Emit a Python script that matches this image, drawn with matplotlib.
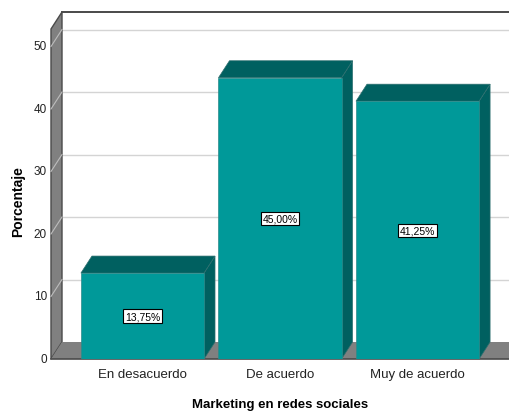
import matplotlib
matplotlib.use("Agg")
import matplotlib.pyplot as plt
from matplotlib.patches import Polygon

categories = ["En desacuerdo", "De acuerdo", "Muy de acuerdo"]
percentages = [13.75, 45.00, 41.25]
value_labels = ["13,75%", "45,00%", "41,25%"]
y_ticks = [0, 10, 20, 30, 40, 50]
x_title = "Marketing en redes sociales"
y_title = "Porcentaje"

W, H, DPI = 509, 414, 100
fig = plt.figure(figsize=(W / DPI, H / DPI), dpi=DPI)

# axes in pixel layout (front plane of the pseudo-3D box)
left_px, right_px, bottom_px, top_px = 51, 509, 360, 30
ax = fig.add_axes([left_px / W, (H - bottom_px) / H,
                   (right_px - left_px) / W, (bottom_px - top_px) / H])

xmin, xmax = -0.665, 2.665
ymin, ymax = 0, 52.8
ax.set_xlim(xmin, xmax)
ax.set_ylim(ymin, ymax)
ax.axis("off")

# depth offset of the 3D effect, in data units
px_per_x = (right_px - left_px) / (xmax - xmin)
px_per_y = (bottom_px - top_px) / (ymax - ymin)
ddx = 11 / px_per_x
ddy = 17 / px_per_y

narrow = ["Liberation Sans Narrow", "Liberation Sans", "DejaVu Sans"]
bold = ["Liberation Sans", "DejaVu Sans"]

wall_gray = "#808080"
edge_dark = "#4a4a4a"
grid_col = "#d4d4d4"
face_col = "#009999"
dark_col = "#006060"


def poly(pts, fc, ec="none", lw=0.8, z=1):
    p = Polygon(pts, closed=True, facecolor=fc, edgecolor=ec, linewidth=lw,
                zorder=z, clip_on=False)
    ax.add_patch(p)


# back wall
poly([(xmin + ddx, ddy), (xmax + ddx, ddy), (xmax + ddx, ymax + ddy),
      (xmin + ddx, ymax + ddy)], "white", z=0)
for t in y_ticks[1:]:
    ax.plot([xmin + ddx, xmax + ddx], [t + ddy, t + ddy], color=grid_col,
            lw=1.0, zorder=0.5, clip_on=False)
ax.plot([xmin + ddx, xmax + ddx], [ymax + ddy, ymax + ddy], color=edge_dark,
        lw=1.4, zorder=0.6, clip_on=False)

# left wall
poly([(xmin, 0), (xmin, ymax), (xmin + ddx, ymax + ddy), (xmin + ddx, ddy)],
     wall_gray, ec=edge_dark, lw=1.0, z=1)
for t in y_ticks[1:]:
    ax.plot([xmin, xmin + ddx], [t, t + ddy], color="#bdbdbd", lw=0.8,
            zorder=1.1, clip_on=False)

# floor
poly([(xmin, 0), (xmax, 0), (xmax + ddx, ddy), (xmin + ddx, ddy)],
     wall_gray, z=1.2)
ax.plot([xmin, xmax], [0, 0], color=edge_dark, lw=1.2, zorder=1.3,
        clip_on=False)

# bars
bw = 0.895
for i, v in enumerate(percentages):
    x0, x1 = i - bw / 2, i + bw / 2
    poly([(x1, 0), (x1 + ddx, ddy), (x1 + ddx, v + ddy), (x1, v)], dark_col,
         ec="#2e6f6f", lw=0.5, z=2)
    poly([(x0, v), (x1, v), (x1 + ddx, v + ddy), (x0 + ddx, v + ddy)],
         dark_col, ec="#2e6f6f", lw=0.5, z=2)
ax.bar(range(len(categories)), percentages, width=bw, color=face_col,
       edgecolor="#2e8a8a", linewidth=0.5, zorder=3)

for i, (v, lab) in enumerate(zip(percentages, value_labels)):
    ax.text(i, v / 2, lab, ha="center", va="center", fontsize=7.5,
            family=narrow, zorder=5,
            bbox=dict(boxstyle="square,pad=0.15", fc="white", ec="black",
                      lw=0.8))

# tick labels
for t in y_ticks:
    ax.text(xmin - 4 / px_per_x, t, str(t), ha="right", va="center",
            fontsize=8.5, family=narrow, color="#222222", clip_on=False)
for i, c in enumerate(categories):
    ax.text(i, -15 / px_per_y, c, ha="center", va="center", fontsize=9.5,
            family=narrow, color="#222222", clip_on=False)

fig.text(280 / W, 1 - 405 / H, x_title, ha="center", va="center",
         fontsize=9.5, fontweight="bold", family=narrow)
fig.text(18 / W, 1 - 202 / H, y_title, ha="center", va="center",
         rotation=90, fontsize=10, fontweight="bold", family=bold)

fig.savefig("out.png", dpi=DPI)
